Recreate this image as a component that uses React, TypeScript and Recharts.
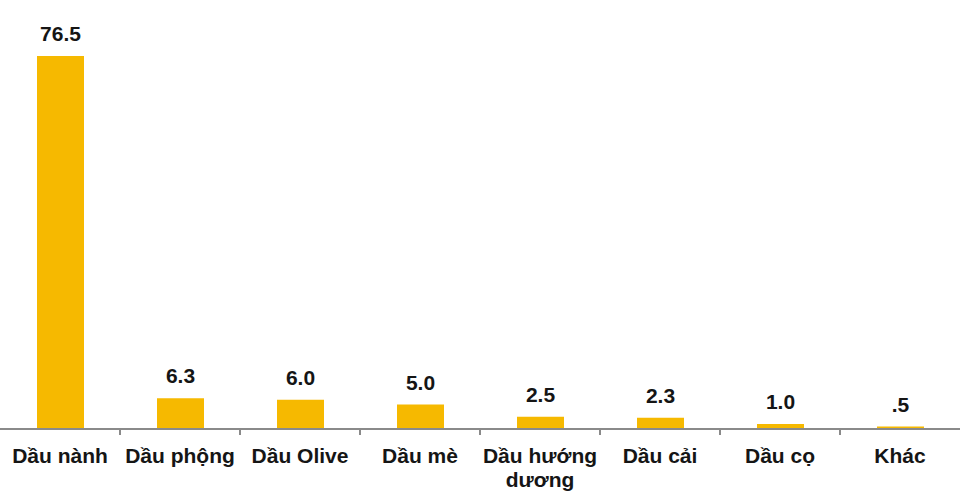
import React from "react";
import { BarChart, Bar, XAxis, YAxis, LabelList } from "recharts";

const categories = [
  "Dầu nành",
  "Dầu phộng",
  "Dầu Olive",
  "Dầu mè",
  "Dầu hướng dương",
  "Dầu cải",
  "Dầu cọ",
  "Khác",
];
const values = [76.5, 6.3, 6.0, 5.0, 2.5, 2.3, 1.0, 0.5];
const valueLabels = ["76.5", "6.3", "6.0", "5.0", "2.5", "2.3", "1.0", ".5"];

const data = categories.map((c, i) => ({ name: c, value: values[i], label: valueLabels[i] }));

const FONT = "'Liberation Sans', Arial, sans-serif";
const AXIS_COLOR = "#8a8a8a";

const CategoryTick = (props: any) => {
  const { x, y, payload, index } = props;
  const words: string[] = String(payload.value).split(" ");
  const lines = words.length > 2 ? [words.slice(0, 2).join(" "), words.slice(2).join(" ")] : [words.join(" ")];
  const half = payload.offset ?? 60;
  const isLast = index === categories.length - 1;
  return (
    <g>
      {!isLast && (
        <line x1={x + half} y1={y} x2={x + half} y2={y + 6} stroke={AXIS_COLOR} strokeWidth={2} />
      )}
      <text x={x} y={y} textAnchor="middle" fontFamily={FONT} fontSize={21} fontWeight="bold" fill="#151515">
        {lines.map((l, i) => (
          <tspan key={i} x={x} dy={i === 0 ? 34 : 24}>
            {l}
          </tspan>
        ))}
      </text>
    </g>
  );
};

export default function App() {
  return (
    <div style={{ position: "absolute", left: 0, top: 0, width: 960, height: 499, background: "#fff" }}>
      <BarChart
        width={960}
        height={499}
        data={data}
        margin={{ top: 56, right: 0, left: 0, bottom: 0 }}
      >
        <YAxis hide domain={[0, 76.5]} />
        <XAxis
          dataKey="name"
          height={70}
          interval={0}
          tickLine={false}
          tickSize={0}
          tickMargin={0}
          axisLine={{ stroke: AXIS_COLOR, strokeWidth: 2 }}
          tick={<CategoryTick />}
        />
        <Bar dataKey="value" fill="#F6B900" barSize={47} isAnimationActive={false}>
          <LabelList
            dataKey="label"
            position="top"
            offset={15}
            fill="#151515"
            fontFamily={FONT}
            fontSize={21}
            fontWeight="bold"
          />
        </Bar>
      </BarChart>
    </div>
  );
}
